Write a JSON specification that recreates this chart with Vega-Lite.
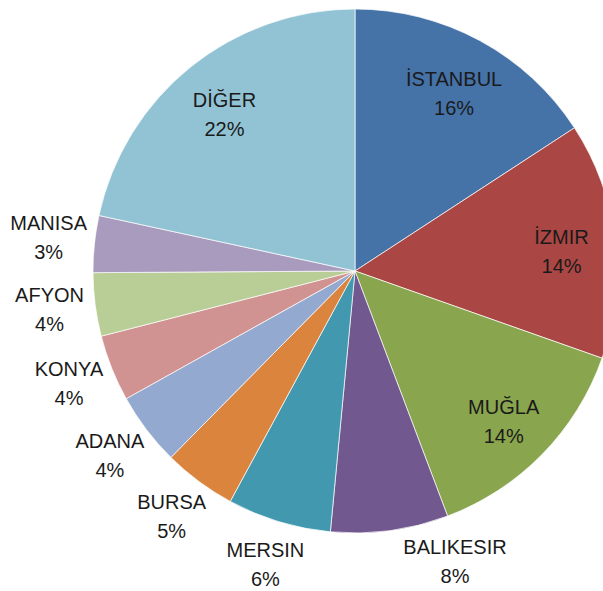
{
  "$schema": "https://vega.github.io/schema/vega-lite/v6.json",
  "width": 496,
  "height": 542,
  "autosize": "none",
  "padding": {"left": 107, "top": 0, "right": 0, "bottom": 49},
  "background": "white",
  "view": {"stroke": null},
  "data": {
    "values": [
      {"order": 1, "name": "İSTANBUL", "value": 15.8, "pct": "16%"},
      {"order": 2, "name": "İZMIR", "value": 14.6, "pct": "14%"},
      {"order": 3, "name": "MUĞLA", "value": 13.85, "pct": "14%"},
      {"order": 4, "name": "BALIKESIR", "value": 7.25, "pct": "8%"},
      {"order": 5, "name": "MERSIN", "value": 6.4, "pct": "6%"},
      {"order": 6, "name": "BURSA", "value": 4.5, "pct": "5%"},
      {"order": 7, "name": "ADANA", "value": 4.5, "pct": "4%"},
      {"order": 8, "name": "KONYA", "value": 4.1, "pct": "4%"},
      {"order": 9, "name": "AFYON", "value": 3.9, "pct": "4%"},
      {"order": 10, "name": "MANISA", "value": 3.5, "pct": "3%"},
      {"order": 11, "name": "DİĞER", "value": 21.6, "pct": "22%"}
    ]
  },
  "encoding": {
    "theta": {"field": "value", "type": "quantitative", "stack": true},
    "order": {"field": "order", "type": "quantitative"}
  },
  "layer": [
    {
      "mark": {"type": "arc", "outerRadius": 262, "stroke": "#ffffff", "strokeWidth": 0.7},
      "encoding": {
        "color": {
          "field": "name",
          "type": "nominal",
          "legend": null,
          "scale": {
            "domain": ["İSTANBUL", "İZMIR", "MUĞLA", "BALIKESIR", "MERSIN", "BURSA", "ADANA", "KONYA", "AFYON", "MANISA", "DİĞER"],
            "range": ["#4572A7", "#AA4643", "#89A54E", "#71588F", "#4198AF", "#DB843D", "#93A9CF", "#D19392", "#B9CD96", "#A99BBD", "#92C3D4"]
          }
        }
      }
    },
    {
      "mark": {
        "type": "text", "radius": 208, "dy": -8, "font": "Liberation Sans", "fontSize": 20, "lineHeight": 29,
        "fill": "#1a1a1a", "align": "center", "baseline": "middle",
        "text": {"expr": "datum.value > 10 ? [datum.name, datum.pct] : ''"}
      }
    },
    {
      "mark": {
        "type": "text", "radius": 308, "dy": -15, "font": "Liberation Sans", "fontSize": 20, "lineHeight": 29,
        "fill": "#1a1a1a", "align": "center", "baseline": "middle",
        "text": {"expr": "(datum.value < 10 && datum.name !== 'BALIKESIR') ? [datum.name, datum.pct] : ''"}
      }
    },
    {
      "mark": {
        "type": "text", "radius": 308, "dx": 59, "dy": -28, "font": "Liberation Sans", "fontSize": 20, "lineHeight": 29,
        "fill": "#1a1a1a", "align": "center", "baseline": "middle",
        "text": {"expr": "datum.name === 'BALIKESIR' ? [datum.name, datum.pct] : ''"}
      }
    }
  ]
}
